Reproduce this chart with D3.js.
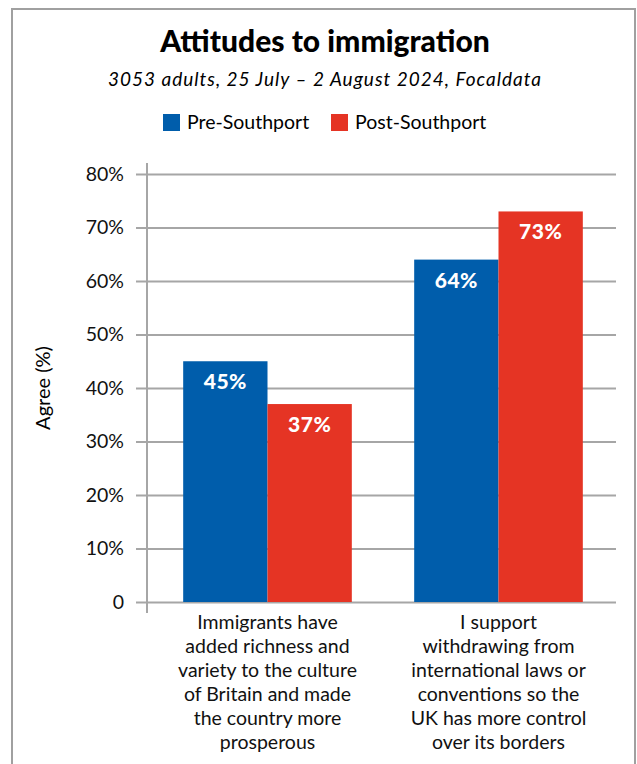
<!DOCTYPE html>
<html>
<head>
<meta charset="utf-8">
<script src="https://cdn.jsdelivr.net/npm/d3@7"></script>
<style>
  body { margin: 0; background: white; }
  text { font-family: Lato, "Open Sans", sans-serif; }
</style>
</head>
<body>
<div class="content"></div>
<script>
const width = 637
const height = 764

// data
const categories = [
  ['Immigrants have', 'added richness and', 'variety to the culture', 'of Britain and made', 'the country more', 'prosperous'],
  ['I support', 'withdrawing from', 'international laws or', 'conventions so the', 'UK has more control', 'over its borders']
]
const seriesNames = ['Pre-Southport', 'Post-Southport']
const preSouthport = [45, 64]
const postSouthport = [37, 73]
const yTicks = [0, 10, 20, 30, 40, 50, 60, 70, 80]
const colors = ['#005dab', '#e53424']

const values = [preSouthport, postSouthport]

const plotLeft = 147
const plotRight = 616
const plotTop = 174
const plotBottom = 602

const svg = d3.select('div.content')
    .append('svg')
    .attr('width', width)
    .attr('height', height)

// outer frame
svg.append('rect')
    .attr('x', 12)
    .attr('y', 9)
    .attr('width', 623)
    .attr('height', 770)
    .attr('fill', 'white')
    .attr('stroke', '#a0a0a0')
    .attr('stroke-width', 2)

svg.append('text')
    .attr('x', 325)
    .attr('y', 52)
    .attr('text-anchor', 'middle')
    .style('font-size', '30px')
    .style('font-weight', 900)
    .text('Attitudes to immigration')

svg.append('text')
    .attr('x', 325)
    .attr('y', 86)
    .attr('text-anchor', 'middle')
    .style('font-size', '19px')
    .style('font-style', 'italic')
    .style('letter-spacing', '1px')
    .text('3053 adults, 25 July \u2013 2 August 2024, Focaldata')

// legend
const legendX = [163, 331]
seriesNames.forEach((name, i) => {
    svg.append('rect')
        .attr('x', legendX[i])
        .attr('y', 114)
        .attr('width', 17)
        .attr('height', 17)
        .attr('fill', colors[i])
    svg.append('text')
        .attr('x', legendX[i] + 24)
        .attr('y', 129)
        .style('font-size', '19.5px')
        .text(name)
})

const y = d3.scaleLinear()
    .domain([0, 80])
    .range([plotBottom, plotTop])

const x0 = d3.scaleBand()
    .domain(d3.range(categories.length))
    .range([152, 614])
    .paddingInner(0.27)
    .paddingOuter(0.135)

const x1 = d3.scaleBand()
    .domain(d3.range(seriesNames.length))
    .range([0, x0.bandwidth()])

// gridlines + y axis
const yAxis = d3.axisLeft(y)
    .tickValues(yTicks)
    .tickSize(plotRight - 136)
    .tickFormat(d => d === 0 ? '0' : d + '%')

const yg = svg.append('g')
    .attr('transform', `translate(${plotRight}, 0)`)
    .call(yAxis)
yg.select('.domain').remove()
yg.selectAll('.tick line')
    .attr('stroke', '#a6a6a6')
    .attr('stroke-width', 2)
yg.selectAll('.tick text')
    .attr('x', -(plotRight - 124))
    .style('font-size', '19.5px')
    .style('font-family', 'Lato, sans-serif')
    .attr('fill', '#111')

svg.append('line')
    .attr('x1', plotLeft)
    .attr('x2', plotLeft)
    .attr('y1', 163)
    .attr('y2', 613)
    .attr('stroke', '#a6a6a6')
    .attr('stroke-width', 2)

svg.append('text')
    .attr('transform', `translate(50, 388) rotate(-90)`)
    .attr('text-anchor', 'middle')
    .style('font-size', '20px')
    .text('Agree (%)')

// bars
const groups = svg.append('g')
    .selectAll('g')
    .data(categories.map((c, i) => i))
    .join('g')
    .attr('transform', d => `translate(${x0(d)}, 0)`)

groups.selectAll('rect')
    .data(ci => values.map((s, si) => ({ si, v: s[ci] })))
    .join('rect')
    .attr('x', d => x1(d.si))
    .attr('y', d => y(d.v))
    .attr('width', x1.bandwidth())
    .attr('height', d => y(0) - y(d.v))
    .attr('fill', d => colors[d.si])

groups.selectAll('text.value')
    .data(ci => values.map((s, si) => ({ si, v: s[ci] })))
    .join('text')
    .attr('class', 'value')
    .attr('x', d => x1(d.si) + x1.bandwidth() / 2)
    .attr('y', d => y(d.v) + 28)
    .attr('text-anchor', 'middle')
    .attr('fill', 'white')
    .style('font-size', '21px')
    .style('font-weight', 900)
    .style('letter-spacing', '0.5px')
    .text(d => d.v + '%')

// category labels
categories.forEach((lines, i) => {
    const t = svg.append('text')
        .attr('text-anchor', 'middle')
        .style('font-size', '19.5px')
        .attr('fill', '#111')
    lines.forEach((line, j) => {
        t.append('tspan')
            .attr('x', x0(i) + x0.bandwidth() / 2)
            .attr('y', 629 + j * 24)
            .text(line)
    })
})
</script>
</body>
</html>
